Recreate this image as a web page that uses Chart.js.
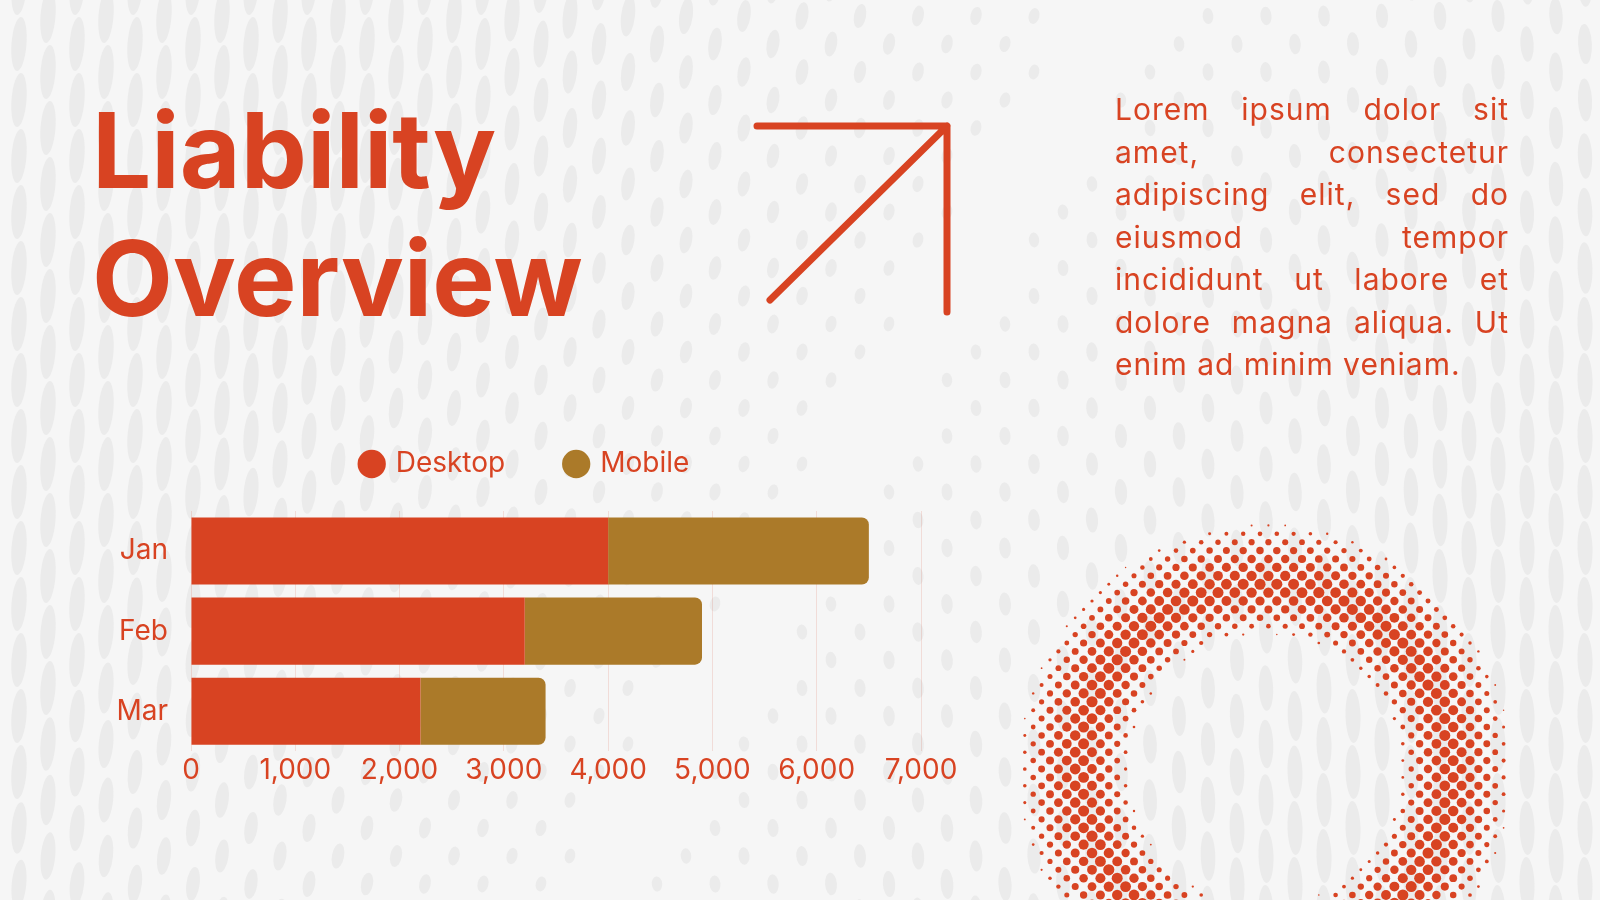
<!DOCTYPE html>
<html lang="en">
<head>
    <meta charset="UTF-8">
    <title>Liability Overview</title>
    <script src="https://cdn.jsdelivr.net/npm/chart.js"></script>
    <style>
        body {
            margin: 0;
            width: 1600px;
            height: 900px;
            overflow: hidden;
            position: relative;
            background: #f6f6f6;
            font-family: Inter, "Noto Sans", sans-serif;
            color: #d84322;
        }
        #bg {
            position: absolute;
            left: 0;
            top: 0;
        }
        .title {
            position: absolute;
            left: 92px;
            top: 86px;
            font-size: 105px;
            line-height: 128px;
            font-weight: 700;
            white-space: nowrap;
        }
        .blurb {
            position: absolute;
            left: 1115px;
            top: 88px;
            width: 394px;
            font-size: 30px;
            line-height: 42.5px;
            letter-spacing: 1px;
        }
        .blurb div {
            text-align: justify;
            text-align-last: justify;
            white-space: nowrap;
        }
        .blurb div.last {
            text-align-last: left;
        }
        .chart-box {
            position: absolute;
            left: 100px;
            top: 380px;
            width: 858px;
            height: 411px;
        }
    </style>
</head>
<body>
    <canvas id="bg" width="1600" height="900"></canvas>
    <div class="title">Liability<br>Overview</div>
    <div class="blurb">
        <div>Lorem ipsum dolor sit</div>
        <div>amet, consectetur</div>
        <div>adipiscing elit, sed do</div>
        <div>eiusmod tempor</div>
        <div>incididunt ut labore et</div>
        <div>dolore magna aliqua. Ut</div>
        <div class="last">enim ad minim veniam.</div>
    </div>
    <div class="chart-box"><canvas id="chart"></canvas></div>

    <script>
        // chart data
        const months = ['Jan', 'Feb', 'Mar'];
        const desktop = [4000, 3200, 2200];
        const mobile = [2500, 1700, 1200];
        const xTicks = [0, 1000, 2000, 3000, 4000, 5000, 6000, 7000];

        const RED = '#d84322';
        const GOLD = '#ab7a29';

        // background: soft grey dot field, arrow and halftone ring
        function drawBackdrop() {
            const g = document.getElementById('bg').getContext('2d');
            g.fillStyle = '#f6f6f6';
            g.fillRect(0, 0, 1600, 900);

            g.fillStyle = '#ebebeb';
            for (let col = 0; col * 29 - 10 < 1620; col++) {
                const cx = col * 29 - 10;
                for (let cy = -40 + (col % 2) * 28; cy < 960; cy += 56) {
                    const mid = 860 - 0.6 * (cy - 450);
                    const d = Math.min(1, Math.abs(cx - mid) / 640);
                    if (d < 0.07) continue;
                    const ry = 7 + 20 * Math.pow(d, 1.5);
                    const rx = 5 + 2.5 * d;
                    const rot = (cx < mid ? 0.25 : -0.1) * (1 - d * 0.7);
                    g.beginPath();
                    g.ellipse(cx, cy, rx, ry, rot, 0, Math.PI * 2);
                    g.fill();
                }
            }

            // arrow
            g.strokeStyle = RED;
            g.lineWidth = 7;
            g.lineCap = 'round';
            g.lineJoin = 'round';
            g.beginPath();
            g.moveTo(757, 126);
            g.lineTo(947, 126);
            g.lineTo(947, 312);
            g.moveTo(947, 126);
            g.lineTo(770, 300);
            g.stroke();

            // halftone ring
            const rcx = 1265, rcy = 770, r0 = 135, r1 = 247;
            const sx = 16.8, sy = 8.4;
            g.fillStyle = RED;
            let row = 0;
            for (let y = rcy - r1 - 6; y < 910; y += sy, row++) {
                const off = (row % 2) * sx / 2;
                for (let x = rcx - r1 - 10 + off; x < rcx + r1 + 10; x += sx) {
                    const r = Math.hypot(x - rcx, y - rcy);
                    if (r < r0 || r > r1) continue;
                    const s = r < 185 ? (r - r0) / 50 : 1 - (r - 185) / 62;
                    const rad = 5.6 * Math.pow(Math.max(0, s), 0.5);
                    if (rad < 0.7) continue;
                    g.beginPath();
                    g.arc(x, y, rad, 0, Math.PI * 2);
                    g.fill();
                }
            }
        }
        drawBackdrop();

        Chart.defaults.font.family = 'Inter';
        Chart.defaults.color = RED;

        // extra room under the legend, and nudge it right a little
        const legendTweak = {
            id: 'legendTweak',
            beforeInit(chart) {
                const lg = chart.legend;
                const fit = lg.fit;
                lg.fit = function () {
                    fit.call(lg);
                    this.height += 23;
                };
                const draw = lg.draw;
                lg.draw = function (area) {
                    const c = this.ctx;
                    c.save();
                    c.translate(15, 0);
                    draw.call(lg, area);
                    c.restore();
                };
            }
        };

        new Chart(document.getElementById('chart'), {
            type: 'bar',
            data: {
                labels: months,
                datasets: [
                    {
                        label: 'Desktop',
                        data: desktop,
                        backgroundColor: RED,
                        borderWidth: 0,
                        borderRadius: 0
                    },
                    {
                        label: 'Mobile',
                        data: mobile,
                        backgroundColor: GOLD,
                        borderWidth: 0,
                        borderRadius: 7,
                        borderSkipped: 'start'
                    }
                ]
            },
            options: {
                indexAxis: 'y',
                responsive: true,
                maintainAspectRatio: false,
                animation: false,
                layout: { padding: { top: 9, left: 0, right: 37, bottom: 0 } },
                datasets: {
                    bar: { barPercentage: 0.8375, categoryPercentage: 1 }
                },
                scales: {
                    x: {
                        stacked: true,
                        min: 0,
                        max: 7000,
                        afterBuildTicks(scale) {
                            scale.ticks = xTicks.map(v => ({ value: v }));
                        },
                        afterFit(scale) {
                            scale.paddingLeft = 0;
                            scale.paddingRight = 0;
                        },
                        grid: {
                            color: 'rgba(216, 67, 34, 0.14)',
                            lineWidth: 1,
                            drawTicks: false
                        },
                        border: { display: false },
                        ticks: {
                            padding: 3,
                            maxRotation: 0,
                            color: RED,
                            font: { size: 28 },
                            callback: v => v.toLocaleString('en-US')
                        }
                    },
                    y: {
                        stacked: true,
                        grid: { display: false, drawTicks: false },
                        border: { display: false },
                        afterFit(scale) { scale.width = 91; },
                        ticks: {
                            padding: 23,
                            color: RED,
                            font: { size: 28 }
                        }
                    }
                },
                plugins: {
                    legend: {
                        position: 'top',
                        labels: {
                            usePointStyle: true,
                            pointStyle: 'circle',
                            boxWidth: 20,
                            boxHeight: 20,
                            padding: 61,
                            color: RED,
                            font: { size: 28 }
                        }
                    },
                    tooltip: { enabled: false }
                }
            },
            plugins: [legendTweak]
        });
    </script>
</body>
</html>
